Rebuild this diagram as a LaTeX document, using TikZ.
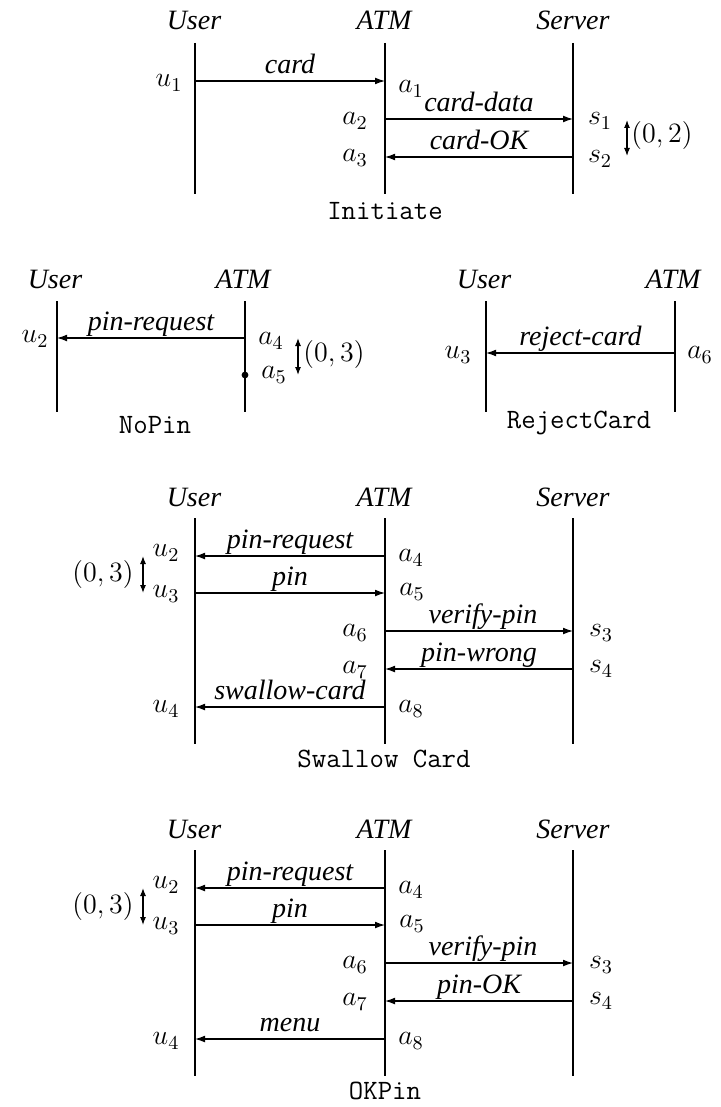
\documentclass[tikz,border=0pt]{standalone}
\usepackage{fix-cm}
\usepackage{fontspec}
\newfontfamily\timesfam{Liberation Serif}[ItalicFont={Liberation Serif Italic}]
\usetikzlibrary{arrows.meta}
\tikzset{
  hdr/.style={font=\timesfam\fontsize{14}{16}\selectfont\itshape, inner sep=0pt},
  lbl/.style={font=\timesfam\fontsize{14}{16}\selectfont\itshape, inner sep=0pt, text height=0.7em, text depth=0.25em, above=1pt},
  mth/.style={font=\fontsize{14}{16}\selectfont, inner sep=0pt},
  ttl/.style={font=\fontsize{14}{16}\selectfont\ttfamily, inner sep=0pt},
  life/.style={line width=0.6pt},
  msg/.style={line width=0.55pt, -{Latex[length=5pt,width=3.4pt]}},
  dbl/.style={line width=0.55pt, {Latex[length=4pt,width=3pt]}-{Latex[length=4pt,width=3pt]}},
}
\begin{document}
\begin{tikzpicture}[x=0.5pt,y=-0.5pt]
\useasboundingbox (0,0) rectangle (720,1107);
% ================= Initiate =================
\node[hdr] (h1u) at (194,20) {User};
\node[hdr] (h1a) at (384,20) {ATM};
\node[hdr] (h1s) at (573,20) {Server};
\coordinate (l1ut) at (195,43); \coordinate (l1ub) at (195,194);
\coordinate (l1at) at (385,43); \coordinate (l1ab) at (385,194);
\coordinate (l1st) at (573,43); \coordinate (l1sb) at (573,194);
\draw[life] (l1ut) -- (l1ub);
\draw[life] (l1at) -- (l1ab);
\draw[life] (l1st) -- (l1sb);
\coordinate (p1u1) at (195,81); \coordinate (p1a1) at (385,81);
\coordinate (p1a2) at (385,119); \coordinate (p1s1) at (573,119);
\coordinate (p1a3) at (385,157); \coordinate (p1s2) at (573,157);
\draw[msg] (p1u1) -- node[lbl] {card} (p1a1);
\draw[msg] (p1a2) -- node[lbl] {card-data} (p1s1);
\draw[msg] (p1s2) -- node[lbl] {card-OK} (p1a3);
\node[mth] (t1u1) at (169,83) {$u_1$};
\node[mth] (t1a1) at (411,89) {$a_1$};
\node[mth] (t1a2) at (355,121) {$a_2$};
\node[mth] (t1s1) at (600,121) {$s_1$};
\node[mth] (t1a3) at (355,158) {$a_3$};
\node[mth] (t1s2) at (600,159) {$s_2$};
\coordinate (d1t) at (627,120); \coordinate (d1b) at (627,156);
\draw[dbl] (d1t) -- (d1b);
\node[mth] (t1d) at (662,136) {$(0,2)$};
\node[ttl] (n1) at (385,211) {Initiate};
% ================= NoPin =================
\node[hdr] (h2u) at (55,279) {User};
\node[hdr] (h2a) at (243,279) {ATM};
\coordinate (l2ut) at (57,301); \coordinate (l2ub) at (57,412);
\coordinate (l2at) at (245,301); \coordinate (l2ab) at (245,412);
\draw[life] (l2ut) -- (l2ub);
\draw[life] (l2at) -- (l2ab);
\coordinate (p2a4) at (245,338); \coordinate (p2u2) at (57,338);
\draw[msg] (p2a4) -- node[lbl] {pin-request} (p2u2);
\coordinate (p2a5) at (245,375);
\fill (p2a5) circle[radius=1.7pt];
\node[mth] (t2u2) at (35,339) {$u_2$};
\node[mth] (t2a4) at (271,341) {$a_4$};
\node[mth] (t2a5) at (274,375) {$a_5$};
\coordinate (d2t) at (298,338); \coordinate (d2b) at (298,375);
\draw[dbl] (d2t) -- (d2b);
\node[mth] (t2d) at (334,354) {$(0,3)$};
\node[ttl] (n2) at (155,425) {NoPin};
% ================= RejectCard =================
\node[hdr] (h3u) at (484,279) {User};
\node[hdr] (h3a) at (673,279) {ATM};
\coordinate (l3ut) at (486,301); \coordinate (l3ub) at (486,412);
\coordinate (l3at) at (675,301); \coordinate (l3ab) at (675,412);
\draw[life] (l3ut) -- (l3ub);
\draw[life] (l3at) -- (l3ab);
\coordinate (p3a6) at (675,353); \coordinate (p3u3) at (486,353);
\draw[msg] (p3a6) -- node[lbl] {reject-card} (p3u3);
\node[mth] (t3u3) at (458,355) {$u_3$};
\node[mth] (t3a6) at (700,355) {$a_6$};
\node[ttl] (n3) at (579,423) {RejectCard};
% ================= Swallow Card =================
\node[hdr] (h4u) at (194,497) {User};
\node[hdr] (h4a) at (384,497) {ATM};
\node[hdr] (h4s) at (573,497) {Server};
\coordinate (l4ut) at (195,518); \coordinate (l4ub) at (195,744);
\coordinate (l4at) at (385,518); \coordinate (l4ab) at (385,744);
\coordinate (l4st) at (573,518); \coordinate (l4sb) at (573,744);
\draw[life] (l4ut) -- (l4ub);
\draw[life] (l4at) -- (l4ab);
\draw[life] (l4st) -- (l4sb);
\coordinate (p4a4) at (385,556); \coordinate (p4u2) at (195,556);
\coordinate (p4u3) at (195,593); \coordinate (p4a5) at (385,593);
\coordinate (p4a6) at (385,631); \coordinate (p4s3) at (573,631);
\coordinate (p4s4) at (573,669); \coordinate (p4a7) at (385,669);
\coordinate (p4a8) at (385,707); \coordinate (p4u4) at (195,707);
\draw[msg] (p4a4) -- node[lbl] {pin-request} (p4u2);
\draw[msg] (p4u3) -- node[lbl] {pin} (p4a5);
\draw[msg] (p4a6) -- node[lbl, xshift=2] {verify-pin} (p4s3);
\draw[msg] (p4s4) -- node[lbl] {pin-wrong} (p4a7);
\draw[msg] (p4a8) -- node[lbl] {swallow-card} (p4u4);
\node[mth] (t4u2) at (166,553) {$u_2$};
\node[mth] (t4u3) at (166,594) {$u_3$};
\node[mth] (t4a4) at (411,558) {$a_4$};
\node[mth] (t4a5) at (412,592) {$a_5$};
\node[mth] (t4a6) at (355,633) {$a_6$};
\node[mth] (t4s3) at (601,633) {$s_3$};
\node[mth] (t4a7) at (355,670) {$a_7$};
\node[mth] (t4s4) at (601,669) {$s_4$};
\node[mth] (t4u4) at (166,709) {$u_4$};
\node[mth] (t4a8) at (411,709) {$a_8$};
\coordinate (d4t) at (143,556); \coordinate (d4b) at (143,593);
\draw[dbl] (d4t) -- (d4b);
\node[mth] (t4d) at (103,574) {$(0,3)$};
\node[ttl] (n4) at (384,759) {Swallow Card};
% ================= OKPin =================
\node[hdr] (h5u) at (194,829) {User};
\node[hdr] (h5a) at (384,829) {ATM};
\node[hdr] (h5s) at (573,829) {Server};
\coordinate (l5ut) at (195,850); \coordinate (l5ub) at (195,1076);
\coordinate (l5at) at (385,850); \coordinate (l5ab) at (385,1076);
\coordinate (l5st) at (573,850); \coordinate (l5sb) at (573,1076);
\draw[life] (l5ut) -- (l5ub);
\draw[life] (l5at) -- (l5ab);
\draw[life] (l5st) -- (l5sb);
\coordinate (p5a4) at (385,888); \coordinate (p5u2) at (195,888);
\coordinate (p5u3) at (195,925); \coordinate (p5a5) at (385,925);
\coordinate (p5a6) at (385,963); \coordinate (p5s3) at (573,963);
\coordinate (p5s4) at (573,1001); \coordinate (p5a7) at (385,1001);
\coordinate (p5a8) at (385,1039); \coordinate (p5u4) at (195,1039);
\draw[msg] (p5a4) -- node[lbl] {pin-request} (p5u2);
\draw[msg] (p5u3) -- node[lbl] {pin} (p5a5);
\draw[msg] (p5a6) -- node[lbl, xshift=2] {verify-pin} (p5s3);
\draw[msg] (p5s4) -- node[lbl] {pin-OK} (p5a7);
\draw[msg] (p5a8) -- node[lbl] {menu} (p5u4);
\node[mth] (t5u2) at (166,885) {$u_2$};
\node[mth] (t5u3) at (166,926) {$u_3$};
\node[mth] (t5a4) at (411,890) {$a_4$};
\node[mth] (t5a5) at (412,924) {$a_5$};
\node[mth] (t5a6) at (355,965) {$a_6$};
\node[mth] (t5s3) at (601,965) {$s_3$};
\node[mth] (t5a7) at (355,1002) {$a_7$};
\node[mth] (t5s4) at (601,1001) {$s_4$};
\node[mth] (t5u4) at (166,1041) {$u_4$};
\node[mth] (t5a8) at (411,1041) {$a_8$};
\coordinate (d5t) at (143,888); \coordinate (d5b) at (143,925);
\draw[dbl] (d5t) -- (d5b);
\node[mth] (t5d) at (103,906) {$(0,3)$};
\node[ttl] (n5) at (385,1091) {OKPin};
\end{tikzpicture}
\end{document}
